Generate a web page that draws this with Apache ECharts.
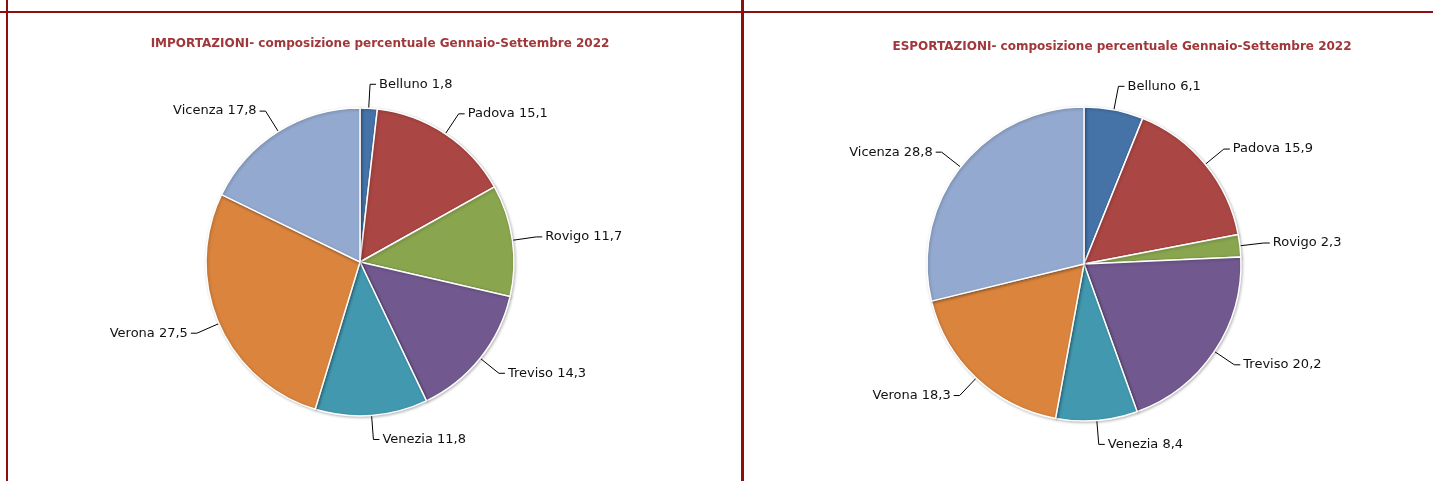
<!DOCTYPE html>
<html>
<head>
    <meta charset="UTF-8">
    <title>Composizione percentuale Gennaio-Settembre 2022</title>
    <script type="text/javascript" src="https://cdn.jsdelivr.net/npm/echarts@6/dist/echarts.min.js"></script>
    <style type="text/css">
        html, body { margin: 0; padding: 0; background: #fff; }
        #wrap { position: relative; width: 1433px; height: 481px; overflow: hidden; }
        #chart { position: absolute; left: 0; top: 0; width: 1433px; height: 481px; }
        .bordo { position: absolute; background: #8b0f0f; }
    </style>
</head>
<body>
    <div id="wrap">
        <div id="chart"></div>
        <div class="bordo" style="left:0;top:11px;width:1433px;height:2px"></div>
        <div class="bordo" style="left:6px;top:0;width:2px;height:481px"></div>
        <div class="bordo" style="left:741px;top:0;width:3px;height:481px"></div>
    </div>

    <script>
    // province del Veneto
    var province = ['Belluno', 'Padova', 'Rovigo', 'Treviso', 'Venezia', 'Verona', 'Vicenza'];
    var importazioni = [1.8, 15.1, 11.7, 14.3, 11.8, 27.5, 17.8];
    var esportazioni = [6.1, 15.9, 2.3, 20.2, 8.4, 18.3, 28.8];
    var colori = ['#4572a7', '#aa4643', '#89a54e', '#71588f', '#4198af', '#db843d', '#93a9cf'];

    var titoloImp = 'IMPORTAZIONI- composizione percentuale Gennaio-Settembre 2022';
    var titoloExp = 'ESPORTAZIONI- composizione percentuale Gennaio-Settembre 2022';

    function dati(valori) {
        return province.map(function (p, i) {
            return { name: p, value: valori[i] };
        });
    }

    function torta(valori, centro, raggio) {
        return {
            type: 'pie',
            center: centro,
            radius: raggio,
            startAngle: 90,
            clockwise: true,
            avoidLabelOverlap: false,
            animation: false,
            itemStyle: {
                borderColor: '#fff',
                borderWidth: 1.5,
                shadowColor: 'rgba(0,0,0,0.25)',
                shadowBlur: 3,
                shadowOffsetX: 1,
                shadowOffsetY: 1
            },
            label: {
                show: true,
                position: 'outside',
                color: '#111',
                fontFamily: 'DejaVu Sans',
                fontSize: 13,
                distanceToLabelLine: 3,
                formatter: function (p) {
                    return p.name + ' ' + p.value.toFixed(1).replace('.', ',');
                }
            },
            labelLine: {
                show: true,
                length: 24,
                length2: 6,
                lineStyle: { color: '#000', width: 1 }
            },
            emphasis: { disabled: true },
            data: dati(valori)
        };
    }

    var chart = echarts.init(document.getElementById('chart'));
    var option = {
        color: colori,
        title: [{
            text: titoloImp,
            left: 375,
            top: 33,
            textAlign: 'center',
            textStyle: { color: '#a0373a', fontSize: 12, fontWeight: 'bold', fontFamily: 'DejaVu Sans' }
        }, {
            text: titoloExp,
            left: 1117,
            top: 36,
            textAlign: 'center',
            textStyle: { color: '#a0373a', fontSize: 12, fontWeight: 'bold', fontFamily: 'DejaVu Sans' }
        }],
        series: [
            torta(importazioni, [360, 262], 154),
            torta(esportazioni, [1084, 264], 157)
        ]
    };
    chart.setOption(option);
    </script>
</body>
</html>
